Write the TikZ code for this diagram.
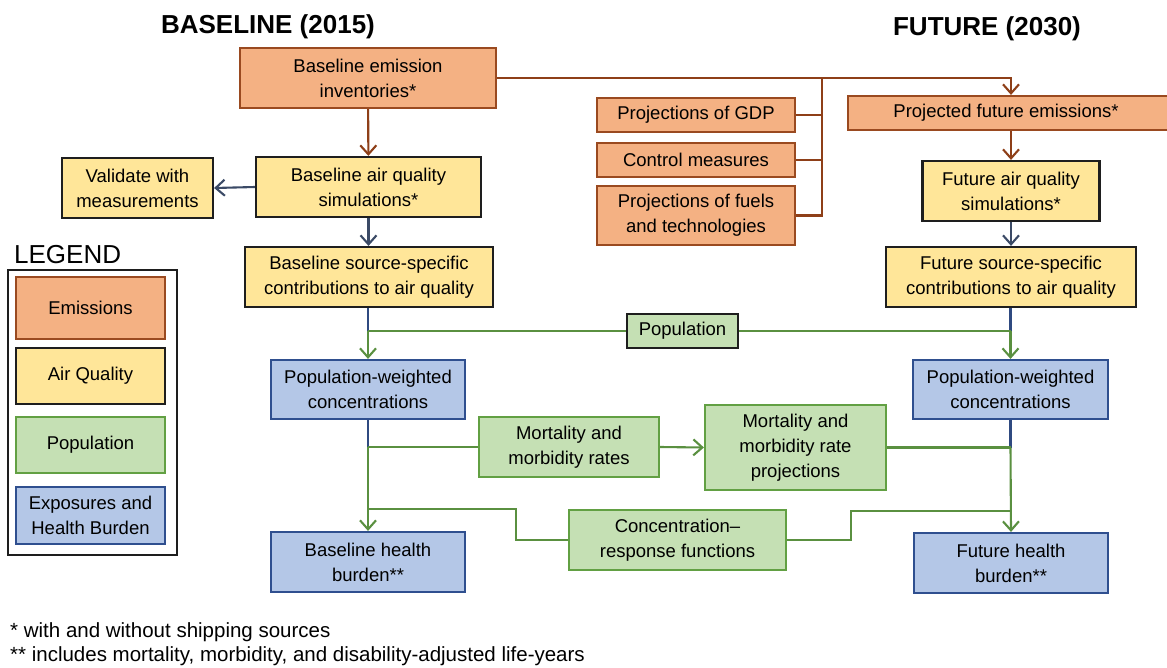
\documentclass[tikz,border=0pt]{standalone}
\usepackage{fontspec}
\setmainfont{Liberation Sans}
\usetikzlibrary{arrows.meta}

\definecolor{emfill}{HTML}{F4B183}
\definecolor{embord}{HTML}{9A4A20}
\definecolor{emline}{HTML}{8E3F18}
\definecolor{aqfill}{HTML}{FFE699}
\definecolor{aqbord}{HTML}{1E1E1E}
\definecolor{aqline}{HTML}{3B4A66}
\definecolor{popfill}{HTML}{C5E0B4}
\definecolor{popbord}{HTML}{62A043}
\definecolor{popline}{HTML}{5A9040}
\definecolor{expfill}{HTML}{B4C7E7}
\definecolor{expbord}{HTML}{2F4F8F}
\definecolor{expline}{HTML}{2F4A80}

\begin{document}
\begin{tikzpicture}[x=1pt, y=-1pt,
  txt/.style={font=\fontsize{18.5}{25}\selectfont},
  box/.style={draw, line width=2.2pt, align=center, inner sep=0pt, txt},
  embox/.style={box, draw=embord, fill=emfill},
  aqbox/.style={box, draw=aqbord, fill=aqfill},
  popbox/.style={box, draw=popbord, fill=popfill},
  expbox/.style={box, draw=expbord, fill=expfill},
  wh/.style 2 args={minimum width=#1pt, minimum height=#2pt},
  conn/.style={line width=2.1pt},
  tip/.style={conn, -{Straight Barb[length=9pt,width=16pt]}},
  title/.style={font=\bfseries\fontsize{26}{30}\selectfont, anchor=base},
  note/.style={font=\fontsize{20.5}{25}\selectfont, anchor=base west}
]
\useasboundingbox (0,0) rectangle (1167,667);
\clip (0,0) rectangle (1167,667);
\fill[white] (0,0) rectangle (1167,667);

% headings
\node[title] (tbase) at (268,33) {BASELINE (2015)};
\node[title] (tfut) at (987,35) {FUTURE (2030)};

% baseline column
\node[embox, wh={256}{60}] (bei) at (368,78) {Baseline emission\\inventories*};
\node[aqbox, wh={225}{60}] (baq) at (368.5,187) {Baseline air quality\\simulations*};
\node[aqbox, wh={151}{60}] (val) at (137.5,188) {Validate with\\measurements};
\node[aqbox, wh={248}{60}] (bsc) at (369,277) {Baseline source-specific\\contributions to air quality};
\node[expbox, wh={194}{59}] (bpw) at (368,389.5) {Population-weighted\\concentrations};
\node[expbox, wh={194}{60}] (bhb) at (368,562) {Baseline health\\burden**};

% emission drivers
\node[embox, wh={198}{34}] (gdp) at (696,115) {Projections of GDP};
\node[embox, wh={198}{34}] (ctl) at (696,160) {Control measures};
\node[embox, wh={198}{59}] (fuel) at (696,215.5) {Projections of fuels\\and technologies};

% future column
\node[embox, wh={334}{34}, label={[txt, xshift=-9pt]center:Projected future emissions*}] (pfe) at (1015,113) {};
\node[aqbox, wh={177}{60}] (faq) at (1011,191) {Future air quality\\simulations*};
\node[aqbox, wh={250}{60}] (fsc) at (1011,277) {Future source-specific\\contributions to air quality};
\node[expbox, wh={195}{59}] (fpw) at (1010.5,389.5) {Population-weighted\\concentrations};
\node[expbox, wh={194}{60}] (fhb) at (1011,563) {Future health\\burden**};

% population and health inputs
\node[popbox, draw=aqbord, wh={111}{34}] (pop) at (682.5,331) {Population};
\node[popbox, wh={180}{60}] (mmr) at (569,447) {Mortality and\\morbidity rates};
\node[popbox, wh={181}{85}] (mmp) at (795.5,447.5) {Mortality and\\morbidity rate\\projections};
\node[popbox, wh={217}{60}] (crf) at (677.5,540) {Concentration--\\response functions};

% legend
\node[font=\fontsize{26}{30}\selectfont, anchor=base west, inner sep=0pt] (leg) at (14,263) {LEGEND};
\node[draw=aqbord, line width=2pt, fill=white, minimum width=169pt, minimum height=285pt, inner sep=0pt] (legbox) at (92.5,412.5) {};
\node[embox, wh={149}{62}] (lem) at (90.5,308) {Emissions};
\node[aqbox, wh={149}{56}] (laq) at (90.5,376) {Air Quality};
\node[popbox, wh={149}{56}] (lpop) at (90.5,445) {Population};
\node[expbox, wh={149}{57}] (lexp) at (90.5,515.5) {Exposures and\\Health Burden};

% emission connectors
\draw[tip, emline] (bei) -- (baq);
\draw[tip, emline] (bei.east) -| (faq.north |- pfe.north);
\coordinate (jx) at (822,78);
\draw[conn, emline] (fuel.east) -| (jx);
\draw[conn, emline] (gdp.east) -- (gdp.east -| jx);
\draw[conn, emline] (ctl.east) -- (ctl.east -| jx);
\draw[tip, emline] (faq.north |- pfe.south) -- (faq.north);

% air quality connectors
\draw[tip, aqline] (baq.west) -- (val.east);
\draw[tip, aqline] (baq.south) -- (bsc.north -| baq.south);
\draw[tip, aqline] (faq.south) -- (fsc.north -| faq.south);

% population weighting
\draw[conn, expline] (bpw.north |- bsc.south) -- (bpw.north |- pop.west);
\draw[conn, expline] (fpw.north |- fsc.south) -- (fpw.north |- pop.east);
\draw[conn, popline] (pop.west) -- (bpw.north |- pop.west);
\draw[tip, popline] (bpw.north |- pop.west) -- (bpw.north);
\draw[conn, popline] (pop.east) -- (fpw.north |- pop.east);
\draw[tip, popline] (fpw.north |- pop.east) -- (fpw.north);

% health burden
\draw[conn, expline] (bpw.south) -- (bpw.south |- mmr.west);
\draw[conn, popline] (mmr.west) -- (bpw.south |- mmr.west);
\draw[tip, popline] (bpw.south |- mmr.west) -- (bhb.north);
\draw[tip, popline] (mmr.east) -- (mmp.west);
\draw[conn, expline] (fpw.south) -- (fpw.south |- mmp.east);
\draw[conn, popline] (mmp.east) -- (fpw.south |- mmp.east);
\draw[tip, popline] (fpw.south |- mmp.east) -- (fhb.north);
\draw[conn, popline] (crf.west) -- ++(-52,0) |- ([yshift=22pt]bhb.north);
\draw[conn, popline] (crf.east) -- ++(64,0) |- ([yshift=21pt]fhb.north);

% footnotes
\node[note, inner sep=0pt] (n1) at (10,637) {* with and without shipping sources};
\node[note, inner sep=0pt] (n2) at (10,661) {** includes mortality, morbidity, and disability-adjusted life-years};
\end{tikzpicture}
\end{document}
